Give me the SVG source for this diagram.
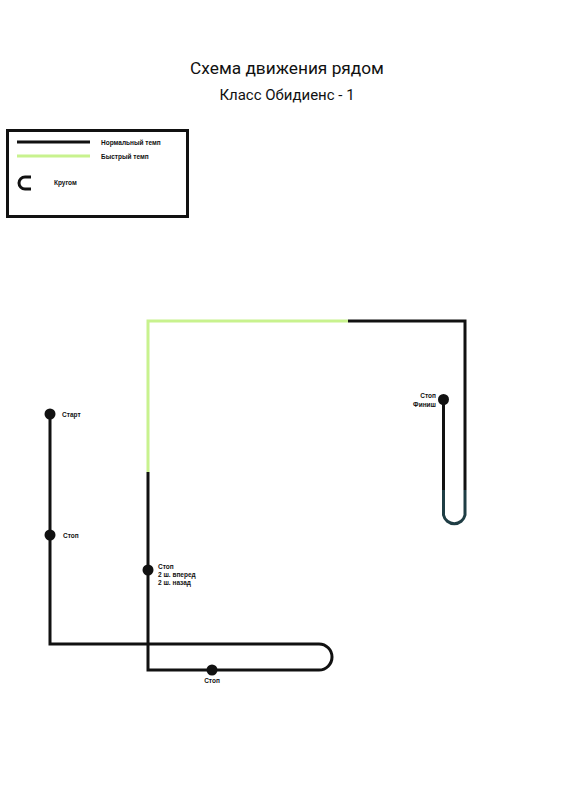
<svg xmlns="http://www.w3.org/2000/svg" width="566" height="800" viewBox="0 0 566 800">
<style>
.t{font-family:"Roboto","Liberation Sans",sans-serif;fill:#111}
.s{font-family:"Liberation Sans",Arial,sans-serif;font-weight:bold;font-size:6.5px;fill:#111}
.n{fill:none;stroke:#111;stroke-width:3}
.f{fill:none;stroke:#c8f28e;stroke-width:3}
.d{fill:#111}
</style>
<rect width="566" height="800" fill="#fff"/>
<g id="title">
<text class="t" x="287" y="74" font-size="17.3" text-anchor="middle">Схема движения рядом</text>
<text class="t" x="287" y="100" font-size="15" text-anchor="middle">Класс Обидиенс - 1</text>
</g>
<g id="legend">
<rect x="7.5" y="130.5" width="180" height="86" fill="none" stroke="#111" stroke-width="3"/>
<line class="n" x1="17" y1="142" x2="90" y2="142"/>
<line class="f" x1="17" y1="156" x2="90" y2="156"/>
<path class="n" d="M31 177 H25 A6 6 0 0 0 25 189 H31"/>
<text class="s" x="101" y="145">Нормальный темп</text>
<text class="s" x="101" y="159">Быстрый темп</text>
<text class="s" x="54" y="185">Кругом</text>
</g>
<g id="connectors">
<path class="n" d="M50 414 V644 H319 A13 13 0 0 1 319 670 H148 V472"/>
<path class="f" d="M148 472 V321 H348"/>
<path class="n" d="M348 321 H465 V490"/>
<path fill="none" stroke="#1f3d44" stroke-width="3" d="M465 490 V515 A11 11 0 0 1 443.5 515 V490"/>
<path class="n" d="M443.5 490 V400"/>
</g>
<g id="start">
<circle class="d" cx="50" cy="414" r="5.5"/>
<text class="s" x="62" y="417">Старт</text>
</g>
<g id="stop1">
<circle class="d" cx="50" cy="535" r="5.5"/>
<text class="s" x="63" y="538">Стоп</text>
</g>
<g id="stop2">
<circle class="d" cx="148" cy="570" r="5.5"/>
<text class="s" x="158" y="569">Стоп</text>
<text class="s" x="158" y="577">2 ш. вперед</text>
<text class="s" x="158" y="585">2 ш. назад</text>
</g>
<g id="stop3">
<circle class="d" cx="212" cy="670" r="5.5"/>
<text class="s" x="212" y="683" text-anchor="middle">Стоп</text>
</g>
<g id="finish">
<circle class="d" cx="443.5" cy="399.5" r="5.5"/>
<text class="s" x="436" y="398" text-anchor="end">Стоп</text>
<text class="s" x="436" y="406.5" text-anchor="end">Финиш</text>
</g>
</svg>
